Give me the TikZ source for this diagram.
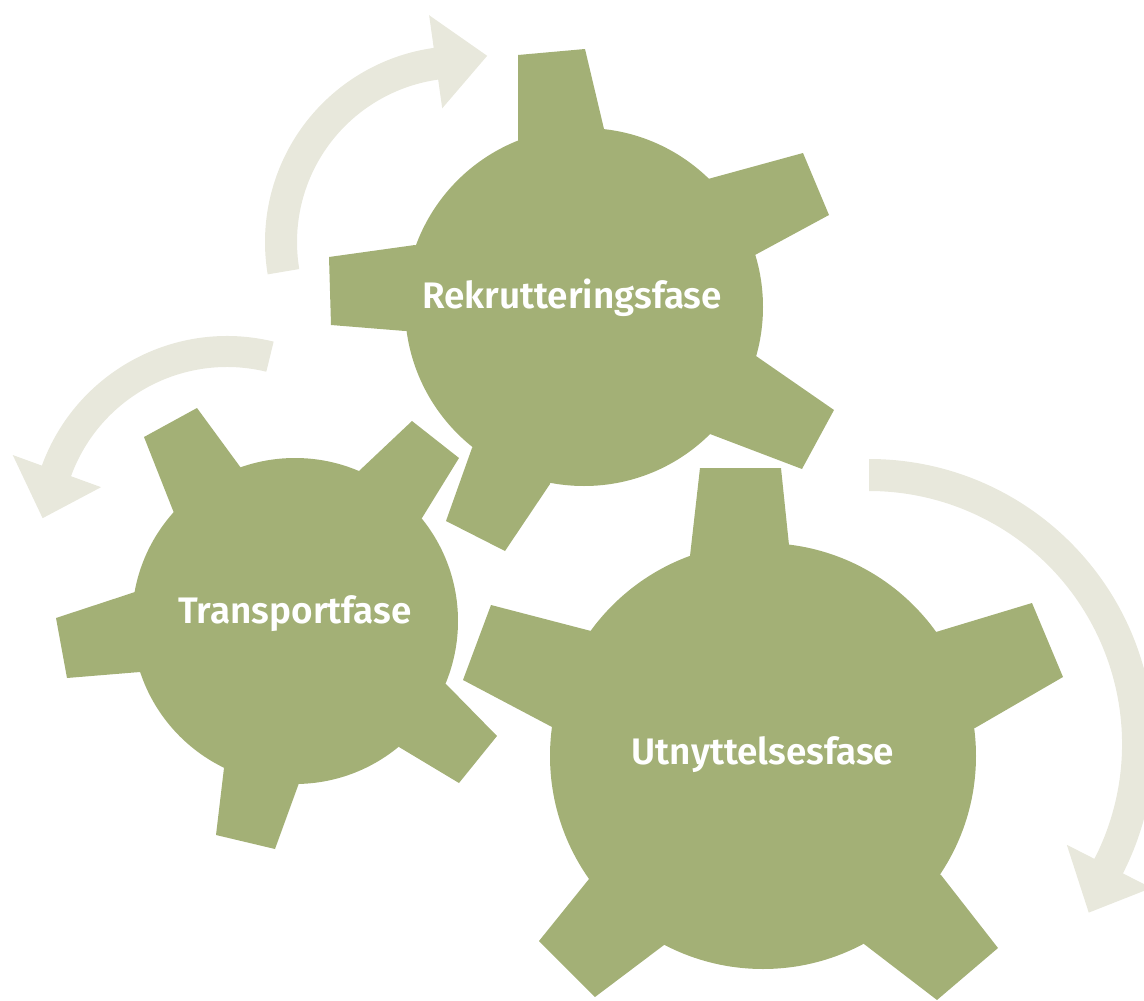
\documentclass[tikz,border=0pt]{standalone}
\usepackage{fontspec}
\setmainfont{Fira Sans}[BoldFont={Fira Sans SemiBold}]
\usetikzlibrary{calc}

\definecolor{gearGreen}{RGB}{163,176,118}
\definecolor{arrowBeige}{RGB}{232,232,220}

\begin{document}
\begin{tikzpicture}[
    x=0.02cm, y=-0.02cm,
    gear/.style={fill=gearGreen},
    turn/.style={fill=arrowBeige},
    phase/.style={text=white, anchor=base, inner sep=0pt, font=\bfseries\fontsize{21}{25}\selectfont}
]
    \useasboundingbox (0,0) rectangle (1144,1001);

    % Curved arrows
    \coordinate (ac1) at (461,242);
    \fill[turn] ($(ac1)+(170.5:196)$) arc[start angle=170.5, end angle=262, radius=196]
        -- ($(ac1)+(262:229)$) -- ($(ac1)+(278:188)$) -- ($(ac1)+(262:135)$)
        -- ($(ac1)+(262:164)$) arc[start angle=262, end angle=170.5, radius=164] -- cycle;

    \coordinate (ac2) at (227,533);
    \fill[turn] ($(ac2)+(-76.3:197)$) arc[start angle=-76.3, end angle=-160, radius=197]
        -- ($(ac2)+(-160:228)$) -- ($(ac2)+(-175.4:185)$) -- ($(ac2)+(-160:134)$)
        -- ($(ac2)+(-160:166)$) arc[start angle=-160, end angle=-76.3, radius=166] -- cycle;

    \coordinate (ac3) at (869,744);
    \fill[turn] ($(ac3)+(-90:285)$) arc[start angle=-90, end angle=27, radius=285]
        -- ($(ac3)+(27:317)$) -- ($(ac3)+(37.5:277)$) -- ($(ac3)+(27:222)$)
        -- ($(ac3)+(27:253)$) arc[start angle=27, end angle=-90, radius=253] -- cycle;

    % Gear: Rekrutteringsfase
    \coordinate (rc) at (584,307);
    \fill[gear] (rc) circle[radius=179];
    \fill[gear] (rc) -- (518,140) -- (518,55) -- (585,49) -- (604,129) -- cycle
        (rc) -- (708,179) -- (803,153) -- (829,215) -- (755,255) -- cycle
        (rc) -- (756,356) -- (834,410) -- (802,469) -- (710,434) -- cycle
        (rc) -- (550,484) -- (505,551) -- (446,521) -- (472,448) -- cycle
        (rc) -- (405,331) -- (331,325) -- (329,257) -- (415,245) -- cycle;

    % Gear: Transportfase
    \coordinate (tc) at (295,621);
    \fill[gear] (tc) circle[radius=163];
    \fill[gear] (tc) -- (174,513) -- (144,437) -- (197,408) -- (241,468) -- cycle
        (tc) -- (359,471) -- (412,421) -- (459,458) -- (422,518) -- cycle
        (tc) -- (446,684) -- (497,736) -- (459,783) -- (399,747) -- cycle
        (tc) -- (299,783) -- (275,849) -- (216,835) -- (224,768) -- cycle
        (tc) -- (140,672) -- (67,678) -- (56,618) -- (135,592) -- cycle;

    % Gear: Utnyttelsesfase
    \coordinate (uc) at (763,756);
    \fill[gear] (uc) circle[radius=213];
    \fill[gear] (uc) -- (690,556) -- (700,468) -- (781,468) -- (789,545) -- cycle
        (uc) -- (936,632) -- (1032,603) -- (1063,677) -- (975,728) -- cycle
        (uc) -- (941,875) -- (998,948) -- (937,1000) -- (864,944) -- cycle
        (uc) -- (664,945) -- (595,997) -- (539,941) -- (589,879) -- cycle
        (uc) -- (552,727) -- (463,680) -- (491,605) -- (591,631) -- cycle;

    % Labels
    \node[phase] (rekr) at (572,308) {Rekrutteringsfase};
    \node[phase] (transp) at (295,623) {Transportfase};
    \node[phase] (utn) at (763,764) {Utnyttelsesfase};
\end{tikzpicture}
\end{document}
